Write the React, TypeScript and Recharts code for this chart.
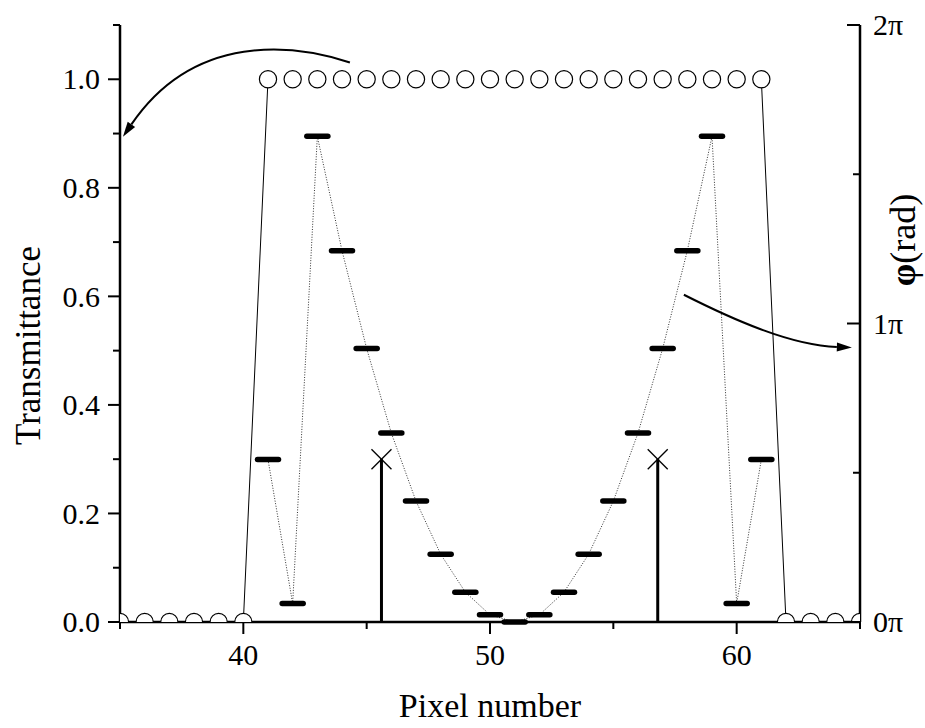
import { ComposedChart, Line, XAxis, YAxis, ReferenceLine, ReferenceDot, Label } from 'recharts';

const FONT = '"Liberation Serif", "Times New Roman", "DejaVu Serif", serif';
const txt = { fontFamily: FONT, fill: '#000' };

// pixel index along the x axis
const pixels = [35, 36, 37, 38, 39, 40, 41, 42, 43, 44, 45, 46, 47, 48, 49, 50, 51, 52, 53, 54, 55, 56, 57, 58, 59, 60, 61, 62, 63, 64, 65];
// transmittance (left axis), open circles
const transmittance = [0, 0, 0, 0, 0, 0, 1, 1, 1, 1, 1, 1, 1, 1, 1, 1, 1, 1, 1, 1, 1, 1, 1, 1, 1, 1, 1, 0, 0, 0, 0];
// phase in units of pi (right axis), thick dashes
const phasePi = [
  null, null, null, null, null, null,
  0.544, 0.062, 1.627, 1.244, 0.916, 0.633, 0.405, 0.227, 0.1, 0.024, 0.0,
  0.024, 0.1, 0.227, 0.405, 0.633, 0.916, 1.244, 1.627, 0.062, 0.544,
  null, null, null, null,
];

// vertical markers with a cross on top
const markerPixel = [45.6, 56.8];
const markerLevel = [0.3, 0.3];

// annotation arrows (tail -> tip), in axis units
const arrowTail = [{ x: 44.32, y: 1.031 }, { x: 57.86, y: 0.603 }];
const arrowTip = [{ x: 35.12, y: 0.894 }, { x: 64.67, y: 0.506 }];

const xTicks = [35, 40, 45, 50, 55, 60, 65];
const xLabelled = [40, 50, 60];
const leftTicks = [0, 0.1, 0.2, 0.3, 0.4, 0.5, 0.6, 0.7, 0.8, 0.9, 1.0, 1.1];
const leftLabelled = [0, 0.2, 0.4, 0.6, 0.8, 1.0];
const phaseTicks = [0, 0.5, 1, 1.5, 2];
const phaseLabelled = [0, 1, 2];

const rows = pixels.map((p, i) => {
  const t = transmittance[i];
  const changes =
    (i > 0 && transmittance[i - 1] !== t) || (i < pixels.length - 1 && transmittance[i + 1] !== t);
  return { pixel: p, t, edge: changes ? t : null, phase: phasePi[i] };
});

function BottomTick({ x, y, payload }: any) {
  const major = xLabelled.includes(payload.value);
  return (
    <g>
      <line x1={x} y1={y} x2={x} y2={y + (major ? 12 : 7)} stroke="#000" strokeWidth={2} />
      {major && (
        <text x={x} y={y + 43} textAnchor="middle" fontSize={30} style={txt}>
          {payload.value}
        </text>
      )}
    </g>
  );
}

function LeftTick({ x, y, payload }: any) {
  const major = leftLabelled.includes(payload.value);
  return (
    <g>
      <line x1={x - (major ? 12 : 7)} y1={y} x2={x} y2={y} stroke="#000" strokeWidth={2} />
      {major && (
        <text x={x - 20} y={y} dy="0.34em" textAnchor="end" fontSize={30} style={txt}>
          {payload.value.toFixed(1)}
        </text>
      )}
    </g>
  );
}

function RightTick({ x, y, payload }: any) {
  const major = phaseLabelled.includes(payload.value);
  return (
    <g>
      <line x1={x - (major ? 13 : 7)} y1={y} x2={x} y2={y} stroke="#000" strokeWidth={2} />
      {major && (
        <text x={x + 13} y={y} dy="0.34em" textAnchor="start" fontSize={30} style={txt}>
          {`${payload.value}π`}
        </text>
      )}
    </g>
  );
}

const PhaseDash = (p: any) => {
  const { cx, cy, index } = p;
  if (cx == null || cy == null || Number.isNaN(cy)) return <g key={`dash-${index}`} />;
  return (
    <line
      key={`dash-${index}`}
      x1={cx - 10.5}
      y1={cy}
      x2={cx + 10.5}
      y2={cy}
      stroke="#000"
      strokeWidth={5.5}
      strokeLinecap="round"
    />
  );
};

const CrossMark = (p: any) => {
  const { cx, cy } = p;
  const s = 10;
  return (
    <g>
      <line x1={cx - s} y1={cy - s} x2={cx + s} y2={cy + s} stroke="#000" strokeWidth={1.3} />
      <line x1={cx - s} y1={cy + s} x2={cx + s} y2={cy - s} stroke="#000" strokeWidth={1.3} />
    </g>
  );
};

// control points given as fractions of the chord (dx, dy)
const makeArrow = (c1: [number, number], c2: [number, number]) => (p: any) => {
  const { x1, y1, x2, y2 } = p;
  if ([x1, y1, x2, y2].some((v) => v == null || Number.isNaN(v))) return <g />;
  const dx = x2 - x1;
  const dy = y2 - y1;
  const ax = x1 + c1[0] * dx;
  const ay = y1 + c1[1] * dy;
  const bx = x1 + c2[0] * dx;
  const by = y1 + c2[1] * dy;
  const ex = x2 - bx;
  const ey = y2 - by;
  const len = Math.hypot(ex, ey) || 1;
  const ux = ex / len;
  const uy = ey / len;
  const head = 15;
  const half = 4.5;
  const hx = x2 - ux * head;
  const hy = y2 - uy * head;
  return (
    <g>
      <path d={`M${x1},${y1} C${ax},${ay} ${bx},${by} ${hx},${hy}`} fill="none" stroke="#000" strokeWidth={2} />
      <polygon
        points={`${x2},${y2} ${hx - uy * half},${hy + ux * half} ${hx + uy * half},${hy - ux * half}`}
        fill="#000"
      />
    </g>
  );
};

const arrowShapes = [makeArrow([0.242, -0.243], [0.683, -0.419]), makeArrow([0.274, 0.442], [0.631, 0.962])];

export default function App() {
  return (
    <div style={{ position: 'absolute', left: 0, top: 0, background: '#fff' }}>
      <ComposedChart width={925} height={728} data={rows} margin={{ top: 25, right: 0, bottom: 0, left: 0 }}>
        <XAxis
          xAxisId="px"
          dataKey="pixel"
          type="number"
          domain={[35, 65]}
          ticks={xTicks}
          interval={0}
          allowDataOverflow
          height={106}
          tickSize={0}
          tickMargin={0}
          tickLine={false}
          tick={<BottomTick />}
          axisLine={{ stroke: '#000', strokeWidth: 2.5 }}
        >
          <Label
            content={(props: any) => {
              const vb = props.viewBox || { x: 120, y: 622, width: 740, height: 106 };
              return (
                <text x={vb.x + vb.width / 2} y={vb.y + 95} textAnchor="middle" fontSize={34} style={txt}>
                  Pixel number
                </text>
              );
            }}
          />
        </XAxis>
        <XAxis xAxisId="free" orientation="top" dataKey="pixel" type="number" domain={[35, 65]} height={0} hide />
        <YAxis
          yAxisId="left"
          type="number"
          domain={[0, 1.1]}
          ticks={leftTicks}
          interval={0}
          allowDataOverflow
          width={120}
          tickSize={0}
          tickMargin={0}
          tickLine={false}
          tick={<LeftTick />}
          axisLine={{ stroke: '#000', strokeWidth: 2.5 }}
        >
          <Label
            content={(props: any) => {
              const vb = props.viewBox || { x: 0, y: 25, width: 120, height: 597 };
              const cx = vb.x + 40;
              const cy = vb.y + vb.height / 2 + 22;
              return (
                <text x={cx} y={cy} transform={`rotate(-90 ${cx} ${cy})`} textAnchor="middle" fontSize={35} style={txt}>
                  Transmittance
                </text>
              );
            }}
          />
        </YAxis>
        <YAxis
          yAxisId="phase"
          orientation="right"
          type="number"
          domain={[0, 2]}
          ticks={phaseTicks}
          interval={0}
          width={65}
          tickSize={0}
          tickMargin={0}
          tickLine={false}
          tick={<RightTick />}
          axisLine={{ stroke: '#000', strokeWidth: 2.5 }}
        >
          <Label
            content={(props: any) => {
              const vb = props.viewBox || { x: 860, y: 25, width: 65, height: 597 };
              const cx = vb.x + 55;
              const cy = vb.y + 215;
              return (
                <text x={cx} y={cy} transform={`rotate(-90 ${cx} ${cy})`} textAnchor="middle" fontSize={36} style={txt}>
                  <tspan fontWeight="bold">φ</tspan>
                  <tspan>(rad)</tspan>
                </text>
              );
            }}
          />
        </YAxis>

        <Line
          xAxisId="px"
          yAxisId="left"
          dataKey="edge"
          stroke="#000"
          strokeWidth={1}
          dot={false}
          activeDot={false}
          connectNulls={false}
          isAnimationActive={false}
        />
        <Line
          xAxisId="px"
          yAxisId="left"
          dataKey="t"
          stroke="none"
          dot={{ r: 8.6, fill: '#fff', stroke: '#000', strokeWidth: 1.2 }}
          activeDot={false}
          isAnimationActive={false}
        />
        <Line
          xAxisId="free"
          yAxisId="phase"
          dataKey="phase"
          stroke="#333"
          strokeWidth={1}
          strokeDasharray="1 1.6"
          dot={PhaseDash}
          activeDot={false}
          connectNulls={false}
          isAnimationActive={false}
        />

        {markerPixel.map((mx, i) => (
          <ReferenceLine
            key={`mline-${i}`}
            xAxisId="px"
            yAxisId="left"
            segment={[{ x: mx, y: 0 }, { x: mx, y: markerLevel[i] }]}
            stroke="#000"
            strokeWidth={3}
          />
        ))}
        {markerPixel.map((mx, i) => (
          <ReferenceDot
            key={`mdot-${i}`}
            xAxisId="px"
            yAxisId="left"
            x={mx}
            y={markerLevel[i]}
            r={10}
            shape={CrossMark}
          />
        ))}
        {arrowTail.map((tail, i) => (
          <ReferenceLine
            key={`arrow-${i}`}
            xAxisId="px"
            yAxisId="left"
            segment={[tail, arrowTip[i]]}
            stroke="#000"
            shape={arrowShapes[i]}
          />
        ))}
      </ComposedChart>
    </div>
  );
}
